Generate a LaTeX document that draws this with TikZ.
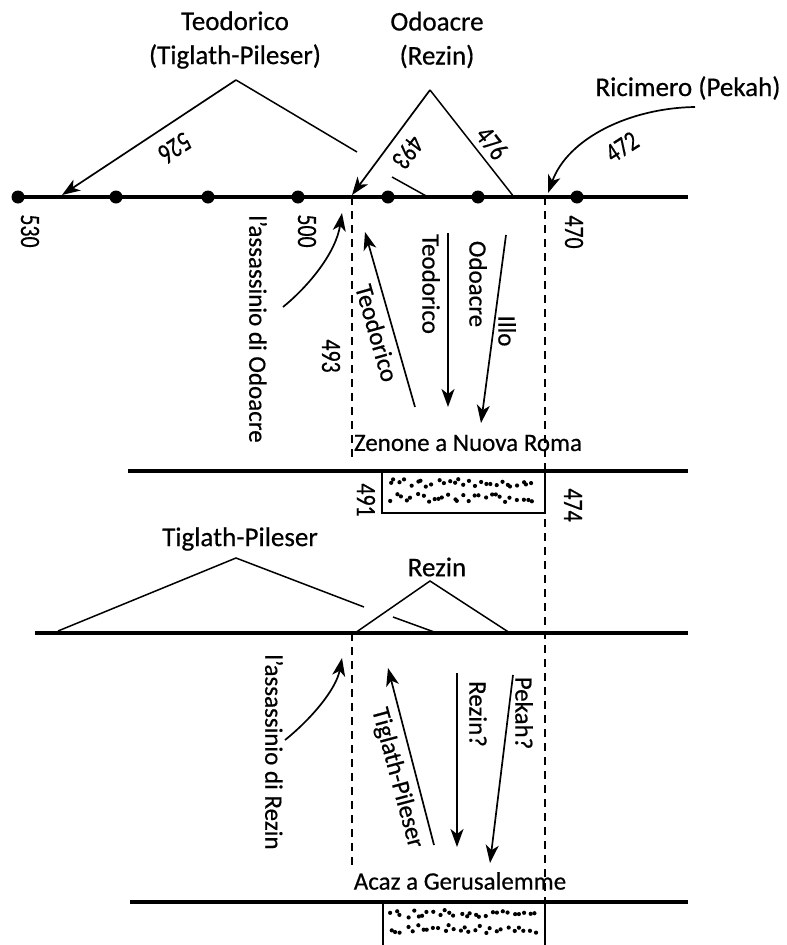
\documentclass[tikz,border=0pt]{standalone}
\usepackage{fontspec}
\setmainfont[FakeBold=0.5]{Carlito}
\newfontfamily\numfont[FakeStretch=0.78,FakeBold=0.4]{Carlito}
\usetikzlibrary{arrows.meta}

\newcommand\stipple[2]{%
  \foreach \r in {12,27}{%
    \foreach \k in {0,...,27}{%
      \pgfmathsetmacro\sx{#1+8+\k*5.3+2.5*rand}%
      \pgfmathsetmacro\sy{#2+\r+4*rand}%
      \fill (\sx,\sy) circle (2.1pt);
    }}}

\begin{document}
\begin{tikzpicture}[x=1pt,y=-1pt,
  >={Stealth[length=18pt,width=13pt,inset=5pt]},
  axis/.style={line width=3.6pt},
  edge/.style={line width=1.5pt},
  arr/.style={->,line width=1.7pt},
  guide/.style={line width=1.3pt,dash pattern=on 8pt off 6pt},
  tick/.style={circle,fill,inner sep=0pt,minimum size=13pt},
  lab/.style={font=\fontsize{25}{28}\selectfont,inner sep=1pt},
  head/.style={font=\fontsize{27}{34}\selectfont,align=center,inner sep=1pt},
  num/.style={font=\numfont\fontsize{28}{30}\selectfont,inner sep=1pt}]
\fill[white] (0,0) rectangle (787,945);
\useasboundingbox (0,0) rectangle (787,945);
\pgfmathsetseed{5}

\coordinate (ta0) at (12,197);
\coordinate (ta1) at (688,197);
\draw[axis] (ta0) -- (ta1);
\foreach \x [count=\i] in {18,116,208,298,388,478,577}
  \node[tick] (d\i) at (\x,197) {};

\node[num,rotate=-90] (n530) at (30,231) {530};
\node[num,rotate=-90] (n500) at (307,231) {500};
\node[num,rotate=-90] (n470) at (574,232) {470};

\node[head] (tteo) at (235,40) {Teodorico\\(Tiglath-Pileser)};
\node[head] (todo) at (437,40) {Odoacre\\(Rezin)};
\node[head] (tric) at (688,88) {Ricimero (Pekah)};

\coordinate (teo) at (236,80);
\coordinate (teoL) at (62,195);
\coordinate (teoR) at (357,152);
\coordinate (teoS) at (392,177);
\coordinate (teoE) at (428,197);
\draw[arr] (teo) -- (teoL);
\draw[edge] (teo) -- (teoR);
\draw[edge] (teoS) -- (teoE);
\node[num,rotate=213] (n526) at (175,148) {526};

\coordinate (odo) at (430,90);
\coordinate (odoL) at (352,195);
\coordinate (odoR) at (514,197);
\draw[arr] (odo) -- (odoL);
\draw[edge] (odo) -- (odoR);
\node[num,rotate=233] (n493a) at (408,152) {493};
\node[num,rotate=-52] (n476) at (492,143) {476};

\coordinate (ricS) at (695,107);
\coordinate (ricE) at (548,193);
\draw[arr] (ricS) .. controls (630,108) and (568,138) .. (ricE);
\node[num,rotate=33] (n472) at (622,147) {472};

\coordinate (gL0) at (352,197);
\coordinate (gL1) at (352,462);
\coordinate (gL2) at (352,633);
\coordinate (gL3) at (352,868);
\coordinate (gR0) at (545,197);
\coordinate (gR1) at (545,945);
\draw[guide] (gL0) -- (gL1);
\draw[guide] (gL2) -- (gL3);
\draw[guide] (gR0) -- (gR1);

\coordinate (kOs) at (283,307);
\coordinate (kOe) at (342,213);
\draw[arr] (kOs) .. controls (310,285) and (336,252) .. (kOe);
\node[lab,rotate=-90] (assO) at (258,329) {l’assassinio di Odoacre};
\node[num,rotate=-90] (n493b) at (331,356) {493};

\coordinate (a1s) at (415,407);
\coordinate (a1e) at (365,232);
\coordinate (a2s) at (448,233);
\coordinate (a2e) at (448,407);
\coordinate (a3s) at (506,235);
\coordinate (a3e) at (481,423);
\draw[arr] (a1s) -- (a1e);
\draw[arr] (a2s) -- (a2e);
\draw[arr] (a3s) -- (a3e);
\node[lab,rotate=-74] (l1) at (377,333) {Teodorico};
\node[lab,rotate=-90] (l2) at (431,284) {Teodorico};
\node[lab,rotate=-90] (l3) at (478,284) {Odoacre};
\node[lab,rotate=-90] (l4) at (507,331) {Illo};
\node[lab] (zen) at (468,443) {Zenone a Nuova Roma};

\coordinate (m0) at (128,471);
\coordinate (m1) at (688,471);
\draw[axis] (m0) -- (m1);
\draw[edge] (382,471) rectangle (545,513);
\stipple{382}{471}
\node[num,rotate=-90] (n491) at (366,500) {491};
\node[num,rotate=-90] (n474) at (573,505) {474};

\node[head] (ttig) at (240,539) {Tiglath-Pileser};
\node[head] (trez) at (437,567) {Rezin};

\coordinate (b0) at (35,633);
\coordinate (b1) at (688,633);
\draw[axis] (b0) -- (b1);
\coordinate (tig) at (236,558);
\coordinate (tigL) at (58,631);
\coordinate (tigR) at (364,607);
\coordinate (tigS) at (393,617);
\coordinate (tigE) at (437,633);
\draw[edge] (tigL) -- (tig) -- (tigR);
\draw[edge] (tigS) -- (tigE);
\coordinate (rez) at (430,581);
\coordinate (rezL) at (355,633);
\coordinate (rezR) at (510,633);
\draw[edge] (rezL) -- (rez) -- (rezR);

\coordinate (kRs) at (285,740);
\coordinate (kRe) at (342,658);
\draw[arr] (kRs) .. controls (310,720) and (336,690) .. (kRe);
\node[lab,rotate=-90] (assR) at (274,752) {l’assassinio di Rezin};

\coordinate (c1s) at (434,845);
\coordinate (c1e) at (388,668);
\coordinate (c2s) at (457,673);
\coordinate (c2e) at (457,847);
\coordinate (c3s) at (513,675);
\coordinate (c3e) at (490,863);
\draw[arr] (c1s) -- (c1e);
\draw[arr] (c2s) -- (c2e);
\draw[arr] (c3s) -- (c3e);
\node[lab,rotate=-75] (p1) at (397,778) {Tiglath-Pileser};
\node[lab,rotate=-90] (p2) at (478,714) {Rezin?};
\node[lab,rotate=-90] (p3) at (524,713) {Pekah?};
\node[lab] (acaz) at (460,881) {Acaz a Gerusalemme};

\coordinate (e0) at (130,902);
\coordinate (e1) at (688,902);
\draw[axis] (e0) -- (e1);
\draw[edge] (383,902) rectangle (545,960);
\stipple{383}{902}
\end{tikzpicture}
\end{document}
